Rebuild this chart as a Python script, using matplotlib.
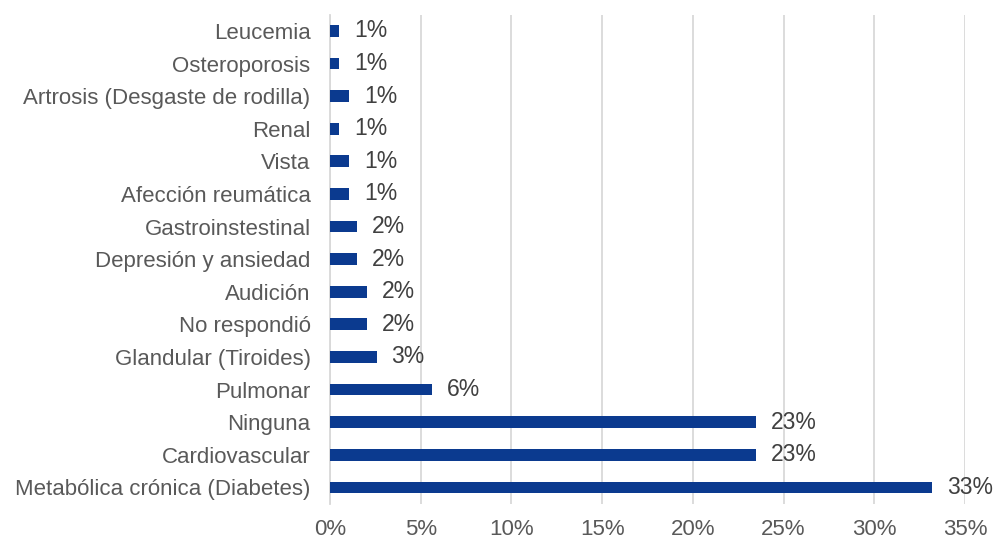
import numpy as np
import matplotlib.pyplot as plt

categories = ['Leucemia', 'Osteroporosis', 'Artrosis (Desgaste de rodilla)', 'Renal',
              'Vista', 'Afección reumática', 'Gastroinstestinal', 'Depresión y ansiedad',
              'Audición', 'No respondió', 'Glandular (Tiroides)', 'Pulmonar',
              'Ninguna', 'Cardiovascular', 'Metabólica crónica (Diabetes)']
values = [0.51, 0.51, 1.06, 0.51, 1.06, 1.06, 1.5, 1.5, 2.06, 2.06, 2.57, 5.64, 23.48, 23.48, 33.2]
labels = ['1%', '1%', '1%', '1%', '1%', '1%', '2%', '2%', '2%', '2%', '3%', '6%', '23%', '23%', '33%']
xticks = [0, 5, 10, 15, 20, 25, 30, 35]

plt.rcParams['font.family'] = ['Liberation Sans', 'DejaVu Sans']

fig = plt.figure(figsize=(9.95, 5.41), dpi=100)
ax = fig.add_axes([0.3317, 0.069, 0.6381, 0.904])

y = np.arange(len(categories))
bars = ax.barh(y, values, height=0.36, color='#0B3A8F', zorder=3)
ax.bar_label(bars, labels=labels, padding=10.5, fontsize=16.5, color='#404040')

ax.set_ylim(-0.5, len(categories) - 0.5)
ax.invert_yaxis()
ax.set_xlim(0, 35)
ax.set_xticks(xticks)
ax.set_xticklabels([f'{t}%' for t in xticks])
ax.set_yticks(y)
ax.set_yticklabels(categories)

ax.grid(axis='x', color='#D9D9D9', linewidth=1.3, zorder=0)
for s in ['top', 'right', 'bottom']:
    ax.spines[s].set_visible(False)
ax.spines['left'].set_color('#D9D9D9')
ax.spines['left'].set_linewidth(1.3)

ax.tick_params(axis='y', length=0, pad=14, labelsize=16, labelcolor='#595959')
ax.tick_params(axis='x', length=0, pad=11, labelsize=16, labelcolor='#595959')

fig.savefig('out.png', dpi=100)
